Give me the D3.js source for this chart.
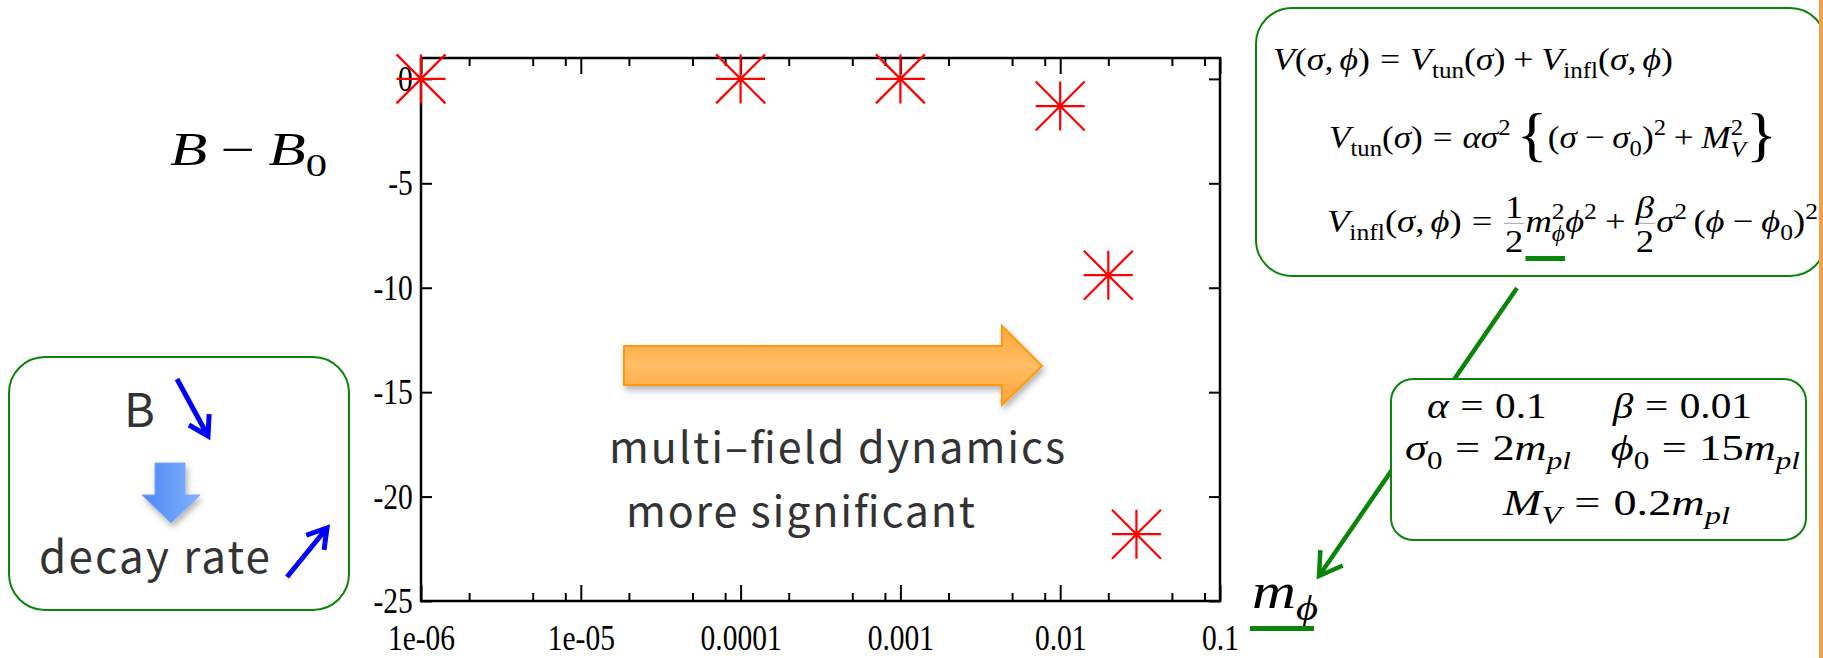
<!DOCTYPE html>
<html>
<head>
<meta charset="utf-8">
<script src="https://cdn.jsdelivr.net/npm/d3@7"></script>
<style>
  html, body { margin: 0; padding: 0; background: #fff; }
  svg { display: block; }
</style>
</head>
<body>
<svg id="chart" width="1823" height="658"></svg>
<script>
// Bounce action shift B - B0 against the inflaton mass m_phi
const massValues = [1e-6, 1e-4, 1e-3, 1e-2, 2e-2, 3e-2];
const deltaB = [0, 0, 0, -1.3, -9.4, -21.8];

const xTickValues = [1e-6, 1e-5, 1e-4, 1e-3, 1e-2, 1e-1];
const xTickLabels = ["1e-06", "1e-05", "0.0001", "0.001", "0.01", "0.1"];
const xMinorTicks = [2e-6, 5e-6, 8e-6, 2e-5, 5e-5, 8e-5, 2e-4, 5e-4, 8e-4,
                     2e-3, 5e-3, 8e-3, 2e-2, 5e-2, 8e-2];
const yTickValues = [0, -5, -10, -15, -20, -25];
const yTickLabels = ["0", "-5", "-10", "-15", "-20", "-25"];

const SERIF = "'Liberation Serif','Times New Roman',serif";
const SANS = "'Noto Sans CJK JP','Noto Sans',sans-serif";
const GREEN = "#0a850a";
const INK = "#333333";

const svg = d3.select("#chart");
const defs = svg.append("defs");

const shadow = defs.append("filter").attr("id", "shadow")
  .attr("x", "-10%").attr("y", "-30%").attr("width", "130%").attr("height", "180%");
shadow.append("feDropShadow").attr("dx", 2).attr("dy", 4).attr("stdDeviation", 3)
  .attr("flood-color", "#000").attr("flood-opacity", 0.3);

const orangeGrad = defs.append("linearGradient").attr("id", "orangeGrad")
  .attr("x1", 0).attr("y1", 0).attr("x2", 0).attr("y2", 1);
orangeGrad.append("stop").attr("offset", "0%").attr("stop-color", "#ffa838");
orangeGrad.append("stop").attr("offset", "50%").attr("stop-color", "#ffbd66");
orangeGrad.append("stop").attr("offset", "100%").attr("stop-color", "#ffa232");

const blueGrad = defs.append("linearGradient").attr("id", "blueGrad")
  .attr("x1", 0).attr("y1", 0).attr("x2", 1).attr("y2", 0);
blueGrad.append("stop").attr("offset", "0%").attr("stop-color", "#4f86f4");
blueGrad.append("stop").attr("offset", "100%").attr("stop-color", "#80b3ff");

// ---------- plot ----------
const x = d3.scaleLog().domain([1e-6, 1e-1]).range([421, 1220]);
const y = d3.scaleLinear().domain([-25, 1]).range([601, 58]);

const plot = svg.append("g");

function styleAxis(g) {
  g.attr("font-family", SERIF);
  g.select(".domain").remove();
  g.selectAll(".tick line").attr("stroke", "#000").attr("stroke-width", 2);
  // tall, narrow tick numerals
  g.selectAll(".tick text")
    .attr("font-family", SERIF).attr("font-size", 36).attr("fill", "#000")
    .attr("transform", "scale(0.82,1)");
}

plot.append("g").attr("transform", `translate(0,${y.range()[0]})`)
  .call(d3.axisBottom(x).tickValues(xTickValues).tickSize(-16).tickPadding(23)
    .tickFormat((d, i) => xTickLabels[i]))
  .call(styleAxis);
plot.append("g").attr("transform", `translate(0,${y.range()[0]})`)
  .call(d3.axisBottom(x).tickValues(xMinorTicks).tickSize(-8).tickFormat(""))
  .call(styleAxis);
plot.append("g").attr("transform", `translate(0,${y.range()[1]})`)
  .call(d3.axisTop(x).tickValues(xTickValues).tickSize(-16).tickFormat(""))
  .call(styleAxis);
plot.append("g").attr("transform", `translate(0,${y.range()[1]})`)
  .call(d3.axisTop(x).tickValues(xMinorTicks).tickSize(-8).tickFormat(""))
  .call(styleAxis);
plot.append("g").attr("transform", `translate(${x.range()[0]},0)`)
  .call(d3.axisLeft(y).tickValues(yTickValues).tickSize(-11).tickPadding(10)
    .tickFormat((d, i) => yTickLabels[i]))
  .call(styleAxis);
plot.append("g").attr("transform", `translate(${x.range()[1]},0)`)
  .call(d3.axisRight(y).tickValues(yTickValues).tickSize(-11).tickFormat(""))
  .call(styleAxis);

plot.append("rect")
  .attr("x", x.range()[0]).attr("y", y.range()[1])
  .attr("width", x.range()[1] - x.range()[0]).attr("height", y.range()[0] - y.range()[1])
  .attr("fill", "none").attr("stroke", "#000").attr("stroke-width", 2.5);

// asterisk marker (plus + cross)
const r = 24.5;
const starPath = `M${-r},0H${r}M0,${-r}V${r}M${-r},${-r}L${r},${r}M${-r},${r}L${r},${-r}`;
plot.selectAll("path.pt").data(d3.zip(massValues, deltaB)).join("path")
  .attr("class", "pt")
  .attr("transform", d => `translate(${x(d[0])},${y(d[1])})`)
  .attr("d", starPath)
  .attr("fill", "none").attr("stroke", "#ff0000").attr("stroke-width", 2.2);

// ---------- math typesetting helper ----------
function mathRow(parent, items, opt) {
  const g = parent.append("g").attr("font-family", SERIF).attr("fill", "#000");
  const s = opt.size;
  let cx = 0;
  const marks = {};
  function put(str, px, py, fs, italic) {
    const t = g.append("text").attr("x", px).attr("y", py).attr("font-size", fs)
      .attr("font-style", italic ? "italic" : "normal").text(str);
    return t.node().getComputedTextLength();
  }
  for (const it of items) {
    switch (it[0]) {
      case "i": cx += put(it[1], cx, 0, s, true); break;
      case "r": cx += put(it[1], cx, 0, s, false); break;
      case "gap": cx += it[1] * s; break;
      case "sub": cx += put(it[1], cx, 0.24 * s, 0.7 * s, false); break;
      case "subi": cx += put(it[1], cx, 0.24 * s, 0.7 * s, true); break;
      case "sup": cx += put(it[1], cx, -0.42 * s, 0.7 * s, false); break;
      case "subsup": {
        const a = put(it[1], cx, 0.28 * s, 0.7 * s, true);
        const b = put(it[2], cx, -0.42 * s, 0.7 * s, false);
        cx += Math.max(a, b); break;
      }
      case "big": cx += put(it[1], cx, 0.18 * s, 1.85 * s, false); break;
      case "frac": {
        const tn = g.append("text").attr("font-size", s)
          .attr("font-style", it[3] ? "italic" : "normal").text(it[1]);
        const td = g.append("text").attr("font-size", s).text(it[2]);
        const wn = tn.node().getComputedTextLength();
        const wd = td.node().getComputedTextLength();
        const w = Math.max(wn, wd) + 0.12 * s;
        tn.attr("x", cx + (w - wn) / 2).attr("y", -0.44 * s);
        td.attr("x", cx + (w - wd) / 2).attr("y", 0.62 * s);
        g.append("line").attr("x1", cx + 0.03 * s).attr("x2", cx + w - 0.03 * s)
          .attr("y1", -0.27 * s).attr("y2", -0.27 * s)
          .attr("stroke", "#000").attr("stroke-width", 1).attr("stroke-opacity", 0.35);
        cx += w; break;
      }
      case "mark": marks[it[1]] = cx; break;
    }
  }
  const k = opt.width ? opt.width / cx : 1;
  g.attr("transform", `translate(${opt.x},${opt.y}) scale(${k},1)`);
  const out = {};
  for (const m in marks) out[m] = opt.x + marks[m] * k;
  return out;
}

const ann = svg.append("g");

// y-axis label
mathRow(ann, [["i", "B"], ["gap", 0.22], ["r", "\u2212"], ["gap", 0.22], ["i", "B"], ["sub", "0"]],
  { x: 170, y: 165, size: 46, width: 157 });

// ---------- left explanation box ----------
ann.append("rect").attr("x", 9).attr("y", 357).attr("width", 340).attr("height", 253)
  .attr("rx", 36).attr("fill", "#fff").attr("stroke", GREEN).attr("stroke-width", 2);
ann.append("text").attr("x", 124).attr("y", 427).attr("font-family", SANS)
  .attr("font-size", 47).attr("fill", INK).text("B");
ann.append("text").attr("x", 39).attr("y", 573).attr("font-family", SANS)
  .attr("font-size", 44).attr("fill", INK)
  .attr("textLength", 231).attr("lengthAdjust", "spacing").text("decay rate");

function lineArrow(g, x1, y1, x2, y2, color, width, head) {
  const a = Math.atan2(y2 - y1, x2 - x1);
  const w1 = [x2 - head * Math.cos(a - 0.55), y2 - head * Math.sin(a - 0.55)];
  const w2 = [x2 - head * Math.cos(a + 0.55), y2 - head * Math.sin(a + 0.55)];
  g.append("path")
    .attr("d", `M${x1},${y1}L${x2},${y2}M${w1[0]},${w1[1]}L${x2},${y2}L${w2[0]},${w2[1]}`)
    .attr("fill", "none").attr("stroke", color).attr("stroke-width", width)
    .attr("stroke-linecap", "butt").attr("stroke-linejoin", "miter");
}
lineArrow(ann, 177, 379, 208, 436, "#0000ff", 5, 22);
lineArrow(ann, 287, 577, 327, 528, "#0000ff", 5, 22);

// down block arrow
ann.append("path")
  .attr("d", "M155,463H185V495H200L171,523L142,495H155Z")
  .attr("fill", "url(#blueGrad)").attr("stroke", "#7aa8ff").attr("stroke-width", 1)
  .attr("filter", "url(#shadow)");

// ---------- orange trend arrow ----------
ann.append("path")
  .attr("d", "M624,346H1002V326L1042,366L1002,405V385H624Z")
  .attr("fill", "url(#orangeGrad)").attr("stroke", "#ff9a0a").attr("stroke-width", 2)
  .attr("filter", "url(#shadow)");
ann.append("text").attr("x", 609).attr("y", 463).attr("font-family", SANS)
  .attr("font-size", 43).attr("fill", INK)
  .attr("textLength", 456).attr("lengthAdjust", "spacing").text("multi\u2013field dynamics");
ann.append("text").attr("x", 626).attr("y", 527).attr("font-family", SANS)
  .attr("font-size", 43).attr("fill", INK)
  .attr("textLength", 349).attr("lengthAdjust", "spacing").text("more significant");

// ---------- potential box ----------
ann.append("rect").attr("x", 1256).attr("y", 8).attr("width", 570).attr("height", 268)
  .attr("rx", 36).attr("fill", "#fff").attr("stroke", GREEN).attr("stroke-width", 2);

mathRow(ann, [
  ["i", "V"], ["r", "("], ["i", "\u03c3"], ["r", ","], ["gap", 0.17], ["i", "\u03d5"], ["r", ")"],
  ["gap", 0.28], ["r", "="], ["gap", 0.28],
  ["i", "V"], ["sub", "tun"], ["r", "("], ["i", "\u03c3"], ["r", ")"],
  ["gap", 0.22], ["r", "+"], ["gap", 0.22],
  ["i", "V"], ["sub", "infl"], ["r", "("], ["i", "\u03c3"], ["r", ","], ["gap", 0.17], ["i", "\u03d5"], ["r", ")"]
], { x: 1273, y: 70, size: 32, width: 400 });

mathRow(ann, [
  ["i", "V"], ["sub", "tun"], ["r", "("], ["i", "\u03c3"], ["r", ")"],
  ["gap", 0.28], ["r", "="], ["gap", 0.28],
  ["i", "\u03b1"], ["i", "\u03c3"], ["sup", "2"], ["gap", 0.17], ["big", "{"],
  ["r", "("], ["i", "\u03c3"], ["gap", 0.22], ["r", "\u2212"], ["gap", 0.22], ["i", "\u03c3"], ["sub", "0"],
  ["r", ")"], ["sup", "2"], ["gap", 0.22], ["r", "+"], ["gap", 0.22],
  ["i", "M"], ["subsup", "V", "2"], ["big", "}"]
], { x: 1329, y: 148, size: 32, width: 448 });

const m3 = mathRow(ann, [
  ["i", "V"], ["sub", "infl"], ["r", "("], ["i", "\u03c3"], ["r", ","], ["gap", 0.17], ["i", "\u03d5"], ["r", ")"],
  ["gap", 0.28], ["r", "="], ["gap", 0.28],
  ["frac", "1", "2"], ["mark", "u0"], ["i", "m"], ["subsup", "\u03d5", "2"], ["mark", "u1"],
  ["i", "\u03d5"], ["sup", "2"],
  ["gap", 0.22], ["r", "+"], ["gap", 0.22],
  ["frac", "\u03b2", "2", true], ["i", "\u03c3"], ["sup", "2"], ["gap", 0.17],
  ["r", "("], ["i", "\u03d5"], ["gap", 0.22], ["r", "\u2212"], ["gap", 0.22], ["i", "\u03d5"], ["sub", "0"],
  ["r", ")"], ["sup", "2"]
], { x: 1327, y: 232, size: 32, width: 491 });

ann.append("rect").attr("x", m3.u0).attr("y", 256)
  .attr("width", m3.u1 - m3.u0).attr("height", 5).attr("fill", GREEN);

// pointer from the mass term to the axis quantity
lineArrow(ann, 1517, 288, 1319, 576, GREEN, 4.5, 26);

// ---------- parameter box ----------
ann.append("rect").attr("x", 1391).attr("y", 379).attr("width", 415).attr("height", 161)
  .attr("rx", 22).attr("fill", "#fff").attr("stroke", GREEN).attr("stroke-width", 2);

mathRow(ann, [
  ["i", "\u03b1"], ["gap", 0.28], ["r", "="], ["gap", 0.28], ["r", "0.1"], ["gap", 1.6],
  ["i", "\u03b2"], ["gap", 0.28], ["r", "="], ["gap", 0.28], ["r", "0.01"]
], { x: 1427, y: 418, size: 36, width: 325 });
mathRow(ann, [
  ["i", "\u03c3"], ["sub", "0"], ["gap", 0.28], ["r", "="], ["gap", 0.28], ["r", "2"], ["i", "m"], ["subi", "pl"],
  ["gap", 0.9],
  ["i", "\u03d5"], ["sub", "0"], ["gap", 0.28], ["r", "="], ["gap", 0.28], ["r", "15"], ["i", "m"], ["subi", "pl"]
], { x: 1405, y: 460, size: 36, width: 395 });
mathRow(ann, [
  ["i", "M"], ["subi", "V"], ["gap", 0.28], ["r", "="], ["gap", 0.28], ["r", "0.2"], ["i", "m"], ["subi", "pl"]
], { x: 1503, y: 515, size: 36, width: 227 });

// axis quantity label
const mp = mathRow(ann, [["mark", "a"], ["i", "m"], ["subi", "\u03d5"], ["mark", "b"]],
  { x: 1252, y: 608, size: 50, width: 66 });
ann.append("rect").attr("x", mp.a - 2).attr("y", 626)
  .attr("width", mp.b - mp.a - 2).attr("height", 5).attr("fill", GREEN);

// right margin rule
ann.append("rect").attr("x", 1819).attr("y", 0).attr("width", 4).attr("height", 658)
  .attr("fill", "#f4a04a");
</script>
</body>
</html>
